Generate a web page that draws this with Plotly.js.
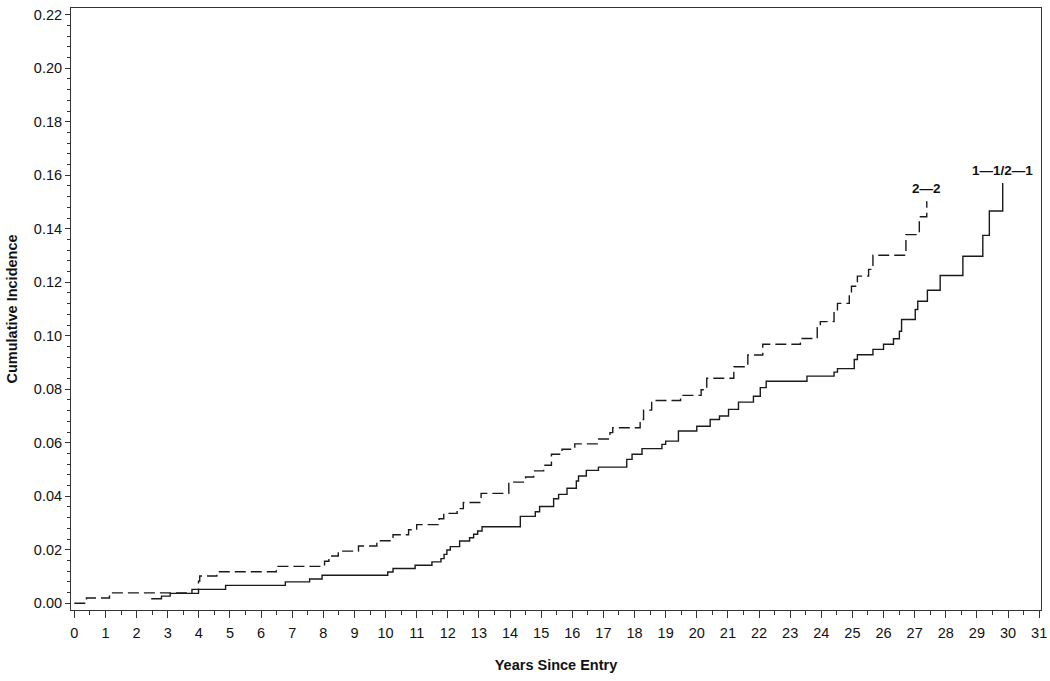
<!DOCTYPE html>
<html>
<head>
<meta charset="utf-8">
<script src="https://cdn.plot.ly/plotly-3.0.1.min.js"></script>
<style>
  html, body { margin: 0; padding: 0; background: #fff; }
  #chart { width: 1050px; height: 681px; }
</style>
</head>
<body>
<div id="chart"></div>
<script>
// Group "2-2" (dashed step curve)
const yearsGroup22 = [0, 0.39, 1.13, 3.78, 3.99, 4.03, 4.58, 6.49, 8.04, 8.18, 8.48, 9.13, 9.72, 10.24, 10.74, 11.0, 11.72, 11.87, 12.3, 12.5, 13.07, 13.96, 14.5, 14.76, 15.08, 15.33, 15.67, 16.08, 16.8, 17.21, 17.3, 18.18, 18.29, 18.55, 19.48, 20.14, 20.32, 21.19, 21.64, 22.12, 23.33, 23.87, 23.97, 24.41, 24.52, 24.9, 24.97, 25.16, 25.52, 25.66, 26.72, 27.15, 27.39];
const incGroup22 = [0, 0.002, 0.0039, 0.0052, 0.0083, 0.0102, 0.0118, 0.0138, 0.0157, 0.0177, 0.0195, 0.0214, 0.0234, 0.0256, 0.0275, 0.0294, 0.0316, 0.0336, 0.0354, 0.0377, 0.0411, 0.0453, 0.0472, 0.0495, 0.0516, 0.0557, 0.0576, 0.0596, 0.0614, 0.0638, 0.0656, 0.0687, 0.0722, 0.0758, 0.0777, 0.0798, 0.0841, 0.0884, 0.0928, 0.0968, 0.0990, 0.1030, 0.1053, 0.1092, 0.1121, 0.1154, 0.1185, 0.1223, 0.1248, 0.1301, 0.1378, 0.1445, 0.1503];

// Group "1-1/2-1" (solid step curve)
const yearsGroup1 = [2.47, 2.8, 3.08, 3.99, 4.86, 6.78, 7.56, 7.96, 10.07, 10.24, 10.95, 11.49, 11.78, 11.88, 11.97, 12.08, 12.38, 12.7, 12.83, 12.96, 13.1, 14.33, 14.81, 14.95, 15.4, 15.56, 15.83, 16.13, 16.2, 16.45, 16.84, 17.75, 17.92, 18.24, 18.88, 19.0, 19.41, 20.0, 20.43, 20.73, 21.02, 21.34, 21.82, 22.04, 22.23, 23.54, 24.41, 24.52, 25.06, 25.16, 25.66, 26.0, 26.32, 26.51, 26.58, 27.02, 27.1, 27.41, 27.82, 28.55, 29.19, 29.4, 29.83];
const incGroup1 = [0.0017, 0.0027, 0.0037, 0.0052, 0.0067, 0.0080, 0.0091, 0.0105, 0.0117, 0.0130, 0.0142, 0.0155, 0.0167, 0.0183, 0.0199, 0.0212, 0.0233, 0.0245, 0.0258, 0.0270, 0.0286, 0.0325, 0.0342, 0.0362, 0.0391, 0.0407, 0.0430, 0.0457, 0.0476, 0.0497, 0.0509, 0.0538, 0.0557, 0.0578, 0.0594, 0.0606, 0.0644, 0.0662, 0.0687, 0.0700, 0.0725, 0.0752, 0.0774, 0.0806, 0.0830, 0.0849, 0.0864, 0.0877, 0.0911, 0.0929, 0.0949, 0.0968, 0.0989, 0.1017, 0.1061, 0.1098, 0.1129, 0.1170, 0.1225, 0.1297, 0.1375, 0.1466, 0.1571];

const curveLabels = ["2\u20142", "1\u20141/2\u20141"];
const xTitle = "Years Since Entry";
const yTitle = "Cumulative Incidence";

const FONT = "Liberation Sans, Arial, Helvetica, sans-serif";

const traces = [
  {
    x: yearsGroup22, y: incGroup22, type: "scatter", mode: "lines",
    line: { shape: "hv", color: "#1a1a1a", width: 1.4, dash: "11px,5px" },
    hoverinfo: "skip", showlegend: false
  },
  {
    x: yearsGroup1, y: incGroup1, type: "scatter", mode: "lines",
    line: { shape: "hv", color: "#1a1a1a", width: 1.4 },
    hoverinfo: "skip", showlegend: false
  }
];

const layout = {
  width: 1050, height: 681,
  margin: { l: 71, r: 9, t: 8, b: 71 },
  paper_bgcolor: "#fff", plot_bgcolor: "#fff",
  showlegend: false,
  font: { family: FONT, size: 14, color: "#111" },
  xaxis: {
    range: [-0.107, 31.06],
    tick0: 0, dtick: 1,
    showgrid: false, zeroline: false,
    showline: true, linecolor: "#333", linewidth: 1, mirror: true,
    ticks: "outside", ticklen: 7, tickwidth: 1, tickcolor: "#333",
    minor: { dtick: 0.5, ticks: "outside", ticklen: 4, tickwidth: 1, tickcolor: "#333", showgrid: false },
    tickfont: { family: FONT, size: 14.5, color: "#111" },
    ticklabelstandoff: 3,
    title: { text: xTitle, font: { family: FONT, size: 14.5, color: "#111", weight: "bold" }, standoff: 19 }
  },
  yaxis: {
    range: [-0.0025, 0.2225],
    tick0: 0, dtick: 0.02, tickformat: ".2f",
    showgrid: false, zeroline: false,
    showline: true, linecolor: "#333", linewidth: 1, mirror: true,
    ticks: "outside", ticklen: 5, tickwidth: 1, tickcolor: "#333",
    minor: { dtick: 0.004, ticks: "outside", ticklen: 3, tickwidth: 1, tickcolor: "#333", showgrid: false },
    tickfont: { family: FONT, size: 14.5, color: "#111" },
    title: { text: yTitle, font: { family: FONT, size: 14.5, color: "#111", weight: "bold" }, standoff: 12 }
  },
  annotations: [
    {
      x: yearsGroup22[yearsGroup22.length - 1], y: incGroup22[incGroup22.length - 1],
      xref: "x", yref: "y", text: curveLabels[0], showarrow: false,
      xanchor: "center", yanchor: "bottom", yshift: 3,
      font: { family: FONT, size: 13.5, color: "#111", weight: "bold" }
    },
    {
      x: yearsGroup1[yearsGroup1.length - 1], y: incGroup1[incGroup1.length - 1],
      xref: "x", yref: "y", text: curveLabels[1], showarrow: false,
      xanchor: "center", yanchor: "bottom", yshift: 3,
      font: { family: FONT, size: 13.5, color: "#111", weight: "bold" }
    }
  ]
};

Plotly.newPlot("chart", traces, layout, { staticPlot: true, displayModeBar: false });
</script>
</body>
</html>
